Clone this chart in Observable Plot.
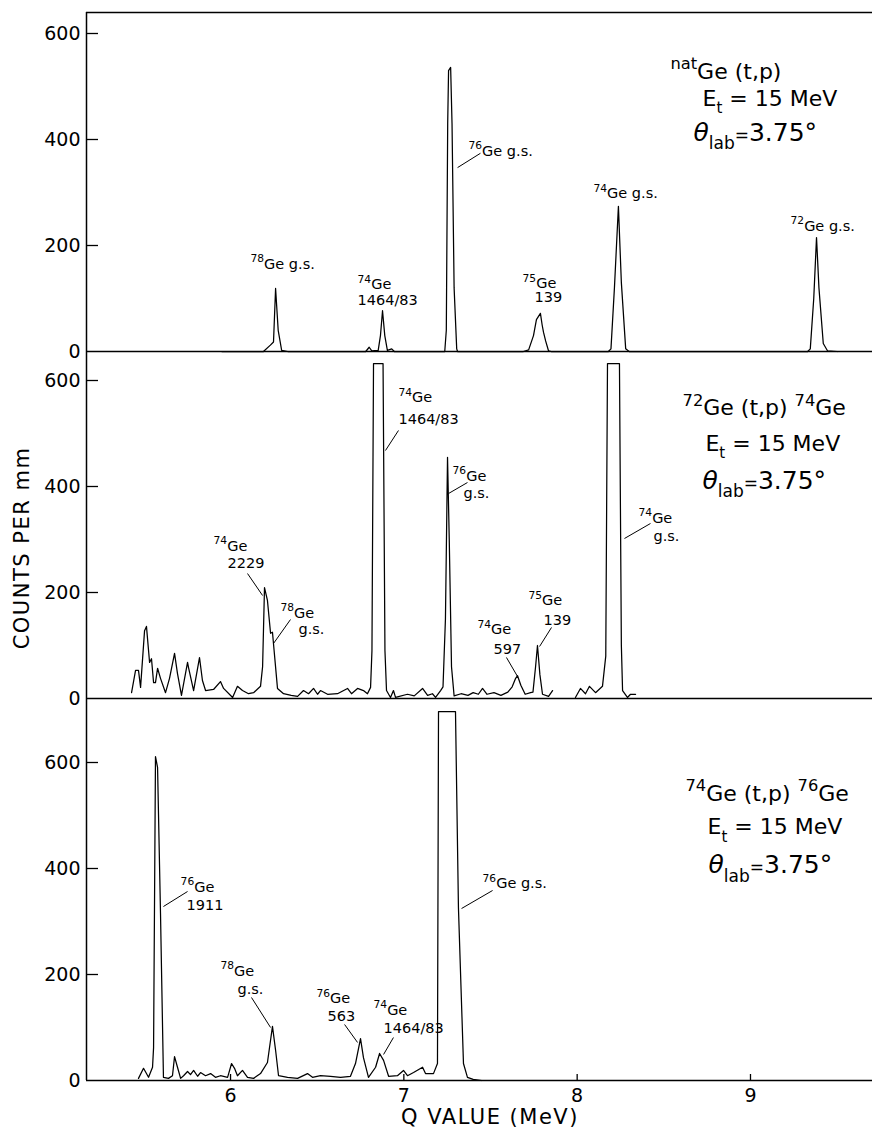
<!DOCTYPE html>
<html>
<head>
<meta charset="utf-8">
<script src="https://cdn.jsdelivr.net/npm/d3@7"></script>
<script src="https://cdn.jsdelivr.net/npm/@observablehq/plot@0.6"></script>
<style>
  html, body { margin: 0; padding: 0; background: white; }
  #chart { width: 872px; }
  #chart svg { display: block; }
</style>
</head>
<body>
<div id="chart"></div>
<script>
// ---------- scale constants (pixels per unit in the reference) ----------
const PX_PER_MEV = 173.33;
const PX_PER_COUNT = 0.53;
const X_DOMAIN = [5.169, 9.704];

// ---------- tick labels ----------
const yTicks = [0, 200, 400, 600];
const xTicks = [6, 7, 8, 9];
const xTitle = "Q VALUE (MeV)";
const yTitle = "COUNTS PER mm";

// ---------- spectra: [Q value (MeV), counts per mm] ----------
const spectrumNat = [
  [5.95, 0], [6.19, 0], [6.23, 12], [6.248, 18], [6.260, 119], [6.275, 40], [6.295, 2], [6.33, 0],
  [6.78, 0], [6.800, 8], [6.815, 1], [6.852, 2], [6.865, 30], [6.877, 77], [6.890, 30], [6.905, 2], [6.930, 5], [6.945, 0],
  [7.236, 0], [7.245, 40], [7.253, 430], [7.258, 530], [7.270, 536], [7.278, 430], [7.290, 120], [7.305, 5], [7.31, 0],
  [7.69, 0], [7.72, 3], [7.748, 30], [7.765, 60], [7.788, 72], [7.798, 50], [7.806, 36], [7.818, 20], [7.835, 1], [7.85, 0],
  [8.18, 0], [8.195, 5], [8.215, 120], [8.238, 274], [8.255, 130], [8.280, 5], [8.30, 0],
  [9.33, 0], [9.345, 5], [9.365, 100], [9.381, 215], [9.395, 120], [9.42, 15], [9.445, 1], [9.50, 0]
];

const spectrum72 = [
  [5.429, 11], [5.452, 53], [5.469, 53], [5.481, 21], [5.504, 128], [5.515, 136], [5.533, 68], [5.544, 75],
  [5.556, 30], [5.567, 30], [5.579, 57], [5.596, 38], [5.625, 11], [5.648, 38], [5.677, 85], [5.694, 47],
  [5.717, 6], [5.752, 68], [5.758, 58], [5.787, 15], [5.821, 77], [5.838, 34], [5.856, 15], [5.902, 17],
  [5.942, 32], [5.960, 19], [6.012, 2], [6.040, 23], [6.069, 15], [6.104, 9], [6.133, 11], [6.173, 23],
  [6.185, 60], [6.196, 209], [6.213, 185], [6.231, 123], [6.242, 125], [6.271, 19], [6.306, 9], [6.35, 6],
  [6.387, 4], [6.421, 15], [6.450, 9], [6.479, 19], [6.502, 8], [6.519, 15], [6.560, 8], [6.617, 9],
  [6.675, 19], [6.698, 9], [6.733, 19], [6.767, 15], [6.790, 9], [6.808, 21], [6.816, 90], [6.825, 632],
  [6.880, 632], [6.891, 90], [6.900, 15], [6.923, 2], [6.940, 15], [6.952, 2], [7.021, 8], [7.060, 5],
  [7.108, 19], [7.137, 6], [7.165, 9], [7.183, 2], [7.212, 15], [7.226, 22], [7.240, 150], [7.252, 455],
  [7.262, 300], [7.275, 60], [7.290, 5], [7.33, 9], [7.37, 6], [7.40, 11], [7.43, 8], [7.454, 19],
  [7.48, 8], [7.52, 11], [7.56, 6], [7.60, 12], [7.625, 22], [7.645, 38], [7.656, 43], [7.675, 25],
  [7.700, 8], [7.731, 11], [7.745, 12], [7.760, 60], [7.771, 100], [7.785, 45], [7.800, 8], [7.835, 4],
  [7.858, 15], [7.87, null], [7.990, 2], [8.019, 19], [8.048, 9], [8.071, 23], [8.106, 11], [8.146, 23],
  [8.165, 80], [8.175, 632], [8.244, 632], [8.255, 100], [8.262, 15], [8.290, 2], [8.308, 8], [8.337, 8]
];

const spectrum74 = [
  [5.469, 4], [5.498, 23], [5.527, 6], [5.550, 25], [5.556, 62], [5.567, 611], [5.579, 591], [5.596, 315],
  [5.613, 6], [5.642, 4], [5.665, 9], [5.677, 45], [5.694, 25], [5.712, 4], [5.729, 9], [5.752, 17],
  [5.769, 11], [5.787, 19], [5.810, 8], [5.827, 15], [5.856, 9], [5.885, 13], [5.913, 6], [5.942, 9],
  [5.983, 6], [6.006, 32], [6.023, 23], [6.040, 9], [6.069, 19], [6.098, 6], [6.133, 4], [6.173, 13],
  [6.213, 34], [6.242, 102], [6.260, 57], [6.277, 9], [6.329, 6], [6.387, 4], [6.444, 13], [6.473, 6],
  [6.519, 9], [6.577, 8], [6.635, 6], [6.692, 8], [6.721, 32], [6.750, 79], [6.767, 43], [6.796, 6],
  [6.837, 25], [6.860, 51], [6.883, 38], [6.912, 8], [6.963, 9], [6.998, 19], [7.021, 9], [7.056, 15],
  [7.108, 25], [7.125, 13], [7.171, 13], [7.194, 32], [7.200, 696], [7.298, 696], [7.315, 326], [7.344, 32],
  [7.367, 6], [7.40, 2], [7.45, 0]
];

// ---------- peak labels (anchored at Q value, counts) ----------
const labelsNat = [
  {q: 6.115, c: 156.6, t: "^{78}Ge g.s."},
  {q: 6.733, c: 117, t: "^{74}Ge"},
  {q: 6.733, c: 86.8, t: "1464/83"},
  {q: 7.373, c: 369.8, t: "^{76}Ge g.s."},
  {q: 7.685, c: 118.9, t: "^{75}Ge"},
  {q: 7.754, c: 92.5, t: "139"},
  {q: 8.094, c: 288.7, t: "^{74}Ge g.s."},
  {q: 9.231, c: 228.3, t: "^{72}Ge g.s."}
];
const leadersNat = [
  {q1: 7.310, c1: 347, q2: 7.442, c2: 374}
];
const reactionNat = [
  {q: 8.538, c: 515, t: "^{nat}Ge (t,p)"},
  {q: 8.723, c: 464, t: "E_{t} = 15 MeV"},
  {q: 8.671, c: 398, t: "~{θ}_{lab}!{=}3.75°"}
];

const labels72 = [
  {q: 5.902, c: 279.2, t: "^{74}Ge"}, {q: 5.983, c: 245.3, t: "2229"},
  {q: 6.288, c: 152.8, t: "^{78}Ge"}, {q: 6.392, c: 122.6, t: "g.s."},
  {q: 6.969, c: 558.5, t: "^{74}Ge"}, {q: 6.969, c: 517, t: "1464/83"},
  {q: 7.281, c: 411.3, t: "^{76}Ge"}, {q: 7.344, c: 377.4, t: "g.s."},
  {q: 7.425, c: 120.8, t: "^{74}Ge"}, {q: 7.517, c: 84.9, t: "597"},
  {q: 7.719, c: 175.5, t: "^{75}Ge"}, {q: 7.806, c: 139.6, t: "139"},
  {q: 8.354, c: 332, t: "^{74}Ge"}, {q: 8.440, c: 298.1, t: "g.s."}
];
const leaders72 = [
  {q1: 6.098, c1: 235.8, q2: 6.185, c2: 194.3},
  {q1: 6.346, c1: 149, q2: 6.248, c2: 103.8},
  {q1: 6.894, c1: 467.9, q2: 6.969, c2: 505.7},
  {q1: 7.258, c1: 386.8, q2: 7.367, c2: 407.5},
  {q1: 7.592, c1: 77.4, q2: 7.656, c2: 41.5},
  {q1: 7.852, c1: 134, q2: 7.783, c2: 98.1},
  {q1: 8.273, c1: 301.9, q2: 8.423, c2: 330.2}
];
const reaction72 = [
  {q: 8.608, c: 534, t: "^{72}Ge (t,p) ^{74}Ge"},
  {q: 8.740, c: 467.9, t: "E_{t} = 15 MeV"},
  {q: 8.723, c: 396.2, t: "~{θ}_{lab}!{=}3.75°"}
];

const labels74 = [
  {q: 5.712, c: 356.6, t: "^{76}Ge"}, {q: 5.746, c: 322.6, t: "1911"},
  {q: 5.942, c: 198.1, t: "^{78}Ge"}, {q: 6.040, c: 162.3, t: "g.s."},
  {q: 6.496, c: 145.3, t: "^{76}Ge"}, {q: 6.560, c: 113.2, t: "563"},
  {q: 6.825, c: 124.5, t: "^{74}Ge"}, {q: 6.883, c: 88.7, t: "1464/83"},
  {q: 7.454, c: 362.3, t: "^{76}Ge g.s."}
];
const leaders74 = [
  {q1: 5.613, c1: 328.3, q2: 5.752, c2: 356.6},
  {q1: 6.121, c1: 156.6, q2: 6.231, c2: 100},
  {q1: 6.658, c1: 105.7, q2: 6.733, c2: 71.7},
  {q1: 6.940, c1: 81.1, q2: 6.883, c2: 49.1},
  {q1: 7.333, c1: 324.5, q2: 7.512, c2: 358.5}
];
const reaction74 = [
  {q: 8.625, c: 528.3, t: "^{74}Ge (t,p) ^{76}Ge"},
  {q: 8.752, c: 464.2, t: "E_{t} = 15 MeV"},
  {q: 8.758, c: 390.6, t: "~{θ}_{lab}!{=}3.75°"}
];

// ---------- panel builder ----------
const FONT = "DejaVu Sans";

function panel({spectrum, labels, leaders, reaction, height, marginTop, marginBottom, topFrame, bottomAxis, showYTitle}) {
  const frameH = height - marginTop - marginBottom;
  const yMax = frameH / PX_PER_COUNT;
  const marks = [
    Plot.axisY(yTicks, {tickSize: 0, tickPadding: 6, fontSize: 19, label: null, tickFormat: d => String(d)}),
    Plot.ruleY(yTicks.filter(d => d > 0), {x1: X_DOMAIN[0], x2: X_DOMAIN[0] + 12 / PX_PER_MEV, strokeWidth: 1.3}),
    Plot.ruleX([X_DOMAIN[0]], {strokeWidth: 1.5}),
    Plot.ruleY([0], {strokeWidth: 1.5}),
    Plot.line(spectrum, {x: d => d[0], y: d => d[1], stroke: "black", strokeWidth: 1.25}),
    Plot.link(leaders, {x1: "q1", y1: "c1", x2: "q2", y2: "c2", stroke: "black", strokeWidth: 1}),
    Plot.text(labels, {x: "q", y: "c", text: "t", textAnchor: "start", lineAnchor: "bottom", fontSize: 14.5}),
    Plot.text(reaction.slice(0, 2), {x: "q", y: "c", text: "t", textAnchor: "start", lineAnchor: "bottom", fontSize: 22}),
    Plot.text(reaction.slice(2), {x: "q", y: "c", text: "t", textAnchor: "start", lineAnchor: "bottom", fontSize: 25})
  ];
  if (topFrame) marks.push(Plot.ruleY([yMax], {strokeWidth: 1.5}));
  if (bottomAxis) {
    marks.push(Plot.axisX(xTicks, {tickSize: 0, tickPadding: 8, fontSize: 19, label: null, tickFormat: d => String(d)}));
    marks.push(Plot.ruleX(xTicks, {y1: 0, y2: 6 / PX_PER_COUNT, strokeWidth: 1.3}));
    marks.push(Plot.text([xTitle], {x: 7.497, frameAnchor: "bottom", dy: 43, fontSize: 21, textAnchor: "middle", lineAnchor: "bottom"}));
  }
  if (showYTitle) {
    marks.push(Plot.text([yTitle], {frameAnchor: "left", rotate: -90, dx: -64, dy: 23, fontSize: 21, textAnchor: "middle", lineAnchor: "middle"}));
  }
  return Plot.plot({
    width: 872,
    height,
    marginLeft: 86,
    marginRight: 0,
    marginTop,
    marginBottom,
    x: {domain: X_DOMAIN, axis: bottomAxis ? undefined : null},
    y: {domain: [0, yMax]},
    style: {fontFamily: FONT, fontSize: "14px", overflow: "visible", background: "transparent", color: "black"},
    marks
  });
}

// ---------- rich text (super/subscripts) ----------
function richify(root) {
  root.querySelectorAll("text").forEach(el => {
    const s = el.textContent;
    if (s === xTitle || s === yTitle) { el.setAttribute("letter-spacing", "1.5"); return; }
    if (!/[\^_~!]\{/.test(s)) return;
    const fs = parseFloat(getComputedStyle(el).fontSize) || 14;
    const parts = s.split(/([\^_~!]\{[^}]*\})/).filter(p => p);
    el.textContent = "";
    let shift = 0;
    for (const p of parts) {
      const m = p.match(/^([\^_~!])\{(.*)\}$/);
      const ts = document.createElementNS("http://www.w3.org/2000/svg", "tspan");
      let target = 0, size = null, italic = false, text = p;
      if (m) {
        text = m[2];
        if (m[1] === "^") { target = -0.42 * fs; size = 0.74 * fs; }
        else if (m[1] === "_") { target = 0.33 * fs; size = 0.68 * fs; }
        else if (m[1] === "!") { size = 0.68 * fs; }
        else { italic = true; }
      }
      ts.setAttribute("dy", (target - shift).toFixed(2));
      shift = target;
      if (size) ts.setAttribute("font-size", size.toFixed(1));
      if (italic) ts.setAttribute("font-style", "italic");
      ts.textContent = text;
      el.appendChild(ts);
    }
  });
}

const chart = document.getElementById("chart");
const p1 = panel({spectrum: spectrumNat, labels: labelsNat, leaders: leadersNat, reaction: reactionNat,
  height: 351, marginTop: 12, marginBottom: 0, topFrame: true});
const p2 = panel({spectrum: spectrum72, labels: labels72, leaders: leaders72, reaction: reaction72,
  height: 347, marginTop: 0, marginBottom: 0, showYTitle: true});
const p3 = panel({spectrum: spectrum74, labels: labels74, leaders: leaders74, reaction: reaction74,
  height: 432, marginTop: 0, marginBottom: 50, bottomAxis: true});
chart.append(p1, p2, p3);
richify(chart);
</script>
</body>
</html>
